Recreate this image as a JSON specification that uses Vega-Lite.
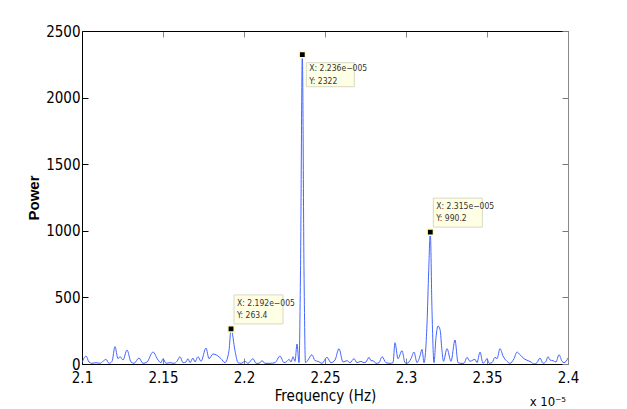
{
  "$schema": "https://vega.github.io/schema/vega-lite/v6.json",
  "width": 486,
  "height": 333,
  "autosize": {"type": "none"},
  "padding": {"left": 82, "top": 31, "right": 59, "bottom": 45},
  "background": "white",
  "config": {
    "view": {"stroke": null},
    "font": "DejaVu Sans Condensed, Liberation Sans, sans-serif",
    "axis": {"grid": false, "labelFont": "DejaVu Sans Condensed, Liberation Sans, sans-serif", "titleFont": "DejaVu Sans Condensed, Liberation Sans, sans-serif"}
  },
  "datasets": {
    "spectrum": [
      {"f": 2.1, "p": 10}, {"f": 2.10247, "p": 60}, {"f": 2.10432, "p": 15}, {"f": 2.10617, "p": 5},
      {"f": 2.10864, "p": 10}, {"f": 2.11111, "p": 5}, {"f": 2.11296, "p": 20}, {"f": 2.11481, "p": 35},
      {"f": 2.11667, "p": 5}, {"f": 2.11852, "p": 20}, {"f": 2.12037, "p": 130}, {"f": 2.12222, "p": 40},
      {"f": 2.12346, "p": 55}, {"f": 2.12531, "p": 30}, {"f": 2.12778, "p": 105}, {"f": 2.13025, "p": 15},
      {"f": 2.1321, "p": 5}, {"f": 2.13519, "p": 45}, {"f": 2.13765, "p": 5}, {"f": 2.14012, "p": 15},
      {"f": 2.14383, "p": 90}, {"f": 2.14691, "p": 30}, {"f": 2.14877, "p": 10}, {"f": 2.15, "p": 40},
      {"f": 2.15185, "p": 5}, {"f": 2.15432, "p": 10}, {"f": 2.15679, "p": 5}, {"f": 2.15864, "p": 20},
      {"f": 2.16049, "p": 55}, {"f": 2.16235, "p": 10}, {"f": 2.1642, "p": 15}, {"f": 2.16543, "p": 40},
      {"f": 2.16667, "p": 10}, {"f": 2.16852, "p": 45}, {"f": 2.16975, "p": 15}, {"f": 2.1716, "p": 55},
      {"f": 2.17346, "p": 20}, {"f": 2.17654, "p": 120}, {"f": 2.1784, "p": 40}, {"f": 2.18086, "p": 75},
      {"f": 2.18333, "p": 65}, {"f": 2.1858, "p": 40}, {"f": 2.18827, "p": 10}, {"f": 2.19074, "p": 100},
      {"f": 2.192, "p": 263.4}, {"f": 2.19444, "p": 100}, {"f": 2.1963, "p": 10}, {"f": 2.19815, "p": 5},
      {"f": 2.20062, "p": 20}, {"f": 2.20247, "p": 5}, {"f": 2.20556, "p": 40}, {"f": 2.20741, "p": 5},
      {"f": 2.20926, "p": 5}, {"f": 2.21111, "p": 25}, {"f": 2.21296, "p": 5}, {"f": 2.21605, "p": 5},
      {"f": 2.21914, "p": 10}, {"f": 2.22222, "p": 60}, {"f": 2.22469, "p": 10}, {"f": 2.22654, "p": 20},
      {"f": 2.22778, "p": 35}, {"f": 2.22901, "p": 15}, {"f": 2.23025, "p": 55}, {"f": 2.23148, "p": 20},
      {"f": 2.23272, "p": 150}, {"f": 2.23395, "p": 10}, {"f": 2.23488, "p": 700}, {"f": 2.236, "p": 2322},
      {"f": 2.23704, "p": 700}, {"f": 2.23796, "p": 10}, {"f": 2.23951, "p": 30}, {"f": 2.24198, "p": 70},
      {"f": 2.24383, "p": 25}, {"f": 2.24568, "p": 20}, {"f": 2.24815, "p": 5}, {"f": 2.25123, "p": 50},
      {"f": 2.2537, "p": 10}, {"f": 2.25617, "p": 30}, {"f": 2.25864, "p": 115}, {"f": 2.26111, "p": 15},
      {"f": 2.26358, "p": 25}, {"f": 2.26543, "p": 10}, {"f": 2.2679, "p": 40}, {"f": 2.26975, "p": 10},
      {"f": 2.27222, "p": 20}, {"f": 2.27407, "p": 10}, {"f": 2.27531, "p": 15}, {"f": 2.27716, "p": 50},
      {"f": 2.2784, "p": 25}, {"f": 2.27963, "p": 25}, {"f": 2.28148, "p": 5}, {"f": 2.28333, "p": 10},
      {"f": 2.28519, "p": 55}, {"f": 2.28765, "p": 10}, {"f": 2.29012, "p": 5}, {"f": 2.29198, "p": 10},
      {"f": 2.29321, "p": 160}, {"f": 2.29506, "p": 40}, {"f": 2.29753, "p": 100}, {"f": 2.29938, "p": 10},
      {"f": 2.30062, "p": 5}, {"f": 2.30309, "p": 40}, {"f": 2.30494, "p": 90}, {"f": 2.30679, "p": 10},
      {"f": 2.30864, "p": 60}, {"f": 2.30988, "p": 110}, {"f": 2.31111, "p": 10}, {"f": 2.31296, "p": 300},
      {"f": 2.31401, "p": 700}, {"f": 2.315, "p": 990.2}, {"f": 2.31605, "p": 400}, {"f": 2.31728, "p": 10},
      {"f": 2.31852, "p": 200}, {"f": 2.31975, "p": 285}, {"f": 2.32099, "p": 260}, {"f": 2.32222, "p": 100},
      {"f": 2.32315, "p": 20}, {"f": 2.32531, "p": 115}, {"f": 2.32778, "p": 20}, {"f": 2.33025, "p": 180},
      {"f": 2.3321, "p": 10}, {"f": 2.33395, "p": 5}, {"f": 2.3358, "p": 5}, {"f": 2.33765, "p": 50},
      {"f": 2.33951, "p": 20}, {"f": 2.34136, "p": 30}, {"f": 2.34259, "p": 35}, {"f": 2.34383, "p": 10},
      {"f": 2.34568, "p": 90}, {"f": 2.34753, "p": 5}, {"f": 2.34877, "p": 20}, {"f": 2.35, "p": 40},
      {"f": 2.35123, "p": 5}, {"f": 2.35309, "p": 10}, {"f": 2.35494, "p": 50}, {"f": 2.35617, "p": 40},
      {"f": 2.35802, "p": 115}, {"f": 2.35988, "p": 60}, {"f": 2.36235, "p": 20}, {"f": 2.3642, "p": 5},
      {"f": 2.36667, "p": 40}, {"f": 2.36852, "p": 90}, {"f": 2.37037, "p": 70}, {"f": 2.37284, "p": 40},
      {"f": 2.37531, "p": 25}, {"f": 2.37716, "p": 15}, {"f": 2.37901, "p": 0}, {"f": 2.38086, "p": 10},
      {"f": 2.38272, "p": 45}, {"f": 2.38457, "p": 5}, {"f": 2.38642, "p": 20}, {"f": 2.38765, "p": 55},
      {"f": 2.38889, "p": 30}, {"f": 2.39074, "p": 25}, {"f": 2.39259, "p": 15}, {"f": 2.39444, "p": 70},
      {"f": 2.3963, "p": 20}, {"f": 2.39753, "p": 10}, {"f": 2.39877, "p": 20}, {"f": 2.4, "p": 45}
    ],
    "peaks": [
      {"f": 2.192, "p": 263.4, "label": "X: 2.192e\u2212005\nY: 263.4"},
      {"f": 2.236, "p": 2322, "label": "X: 2.236e\u2212005\nY: 2322"},
      {"f": 2.315, "p": 990.2, "label": "X: 2.315e\u2212005\nY: 990.2"}
    ],
    "corner": [{"f": 2.4, "p": 0, "t": "x 10\u207b\u2075"}]
  },
  "resolve": {"axis": {"x": "independent", "y": "independent"}},
  "layer": [
    {
      "data": {"name": "spectrum"},
      "mark": {"type": "line", "interpolate": "monotone", "color": "#4466ff", "strokeWidth": 1, "clip": true},
      "encoding": {
        "x": {"field": "f", "type": "quantitative", "scale": {"domain": [2.1, 2.4], "nice": false, "zero": false},
          "axis": {"orient": "bottom", "values": [2.1, 2.15, 2.2, 2.25, 2.3, 2.35, 2.4], "format": "~g", "title": "Frequency (Hz)",
            "titleFontSize": 15, "titleFontWeight": "normal", "titleColor": "black", "titlePadding": 3,
            "labelFontSize": 15, "labelColor": "black", "labelPadding": 12, "tickSize": -6, "tickColor": "#888",
            "domainColor": "black", "labelFlush": false}},
        "y": {"field": "p", "type": "quantitative", "scale": {"domain": [0, 2500], "nice": false},
          "axis": {"orient": "left", "values": [0, 500, 1000, 1500, 2000, 2500], "format": "d", "title": "Power",
            "titleFontSize": 15, "titleFontWeight": "bold", "titleFont": "Liberation Sans", "titleColor": "black", "titlePadding": 4,
            "labelFontSize": 15, "labelColor": "black", "labelPadding": 8, "tickSize": -6, "tickColor": "black",
            "domainColor": "black", "labelFlush": false}}
      }
    },
    {
      "data": {"name": "peaks"},
      "mark": {"type": "square", "size": 40, "filled": true, "color": "black", "stroke": "#ffffc0", "strokeWidth": 1.5, "opacity": 1},
      "encoding": {
        "x": {"field": "f", "type": "quantitative",
          "axis": {"orient": "top", "values": [2.1, 2.15, 2.2, 2.25, 2.3, 2.35, 2.4], "labels": false, "title": null,
            "tickSize": -6, "tickColor": "#888", "domainColor": "black"}},
        "y": {"field": "p", "type": "quantitative",
          "axis": {"orient": "right", "values": [0, 500, 1000, 1500, 2000, 2500], "labels": false, "title": null,
            "tickSize": -6, "tickColor": "#777", "domainColor": "#888"}}
      }
    },
    {
      "data": {"name": "peaks"},
      "transform": [{"filter": "datum.p > 2000"}],
      "layer": [
        {
          "mark": {"type": "rect", "fill": "#ffffe6", "stroke": "#d9d9c0", "strokeWidth": 1,
            "xOffset": 4, "x2Offset": 52, "yOffset": 8, "y2Offset": 32},
          "encoding": {
            "x": {"field": "f", "type": "quantitative", "axis": null},
            "x2": {"field": "f"},
            "y": {"field": "p", "type": "quantitative", "axis": null},
            "y2": {"field": "p"}
          }
        },
        {
          "mark": {"type": "text", "align": "left", "baseline": "middle", "dx": 7, "dy": 13, "lineBreak": "\n", "lineHeight": 13,
            "fontSize": 8.5, "color": "#333"},
          "encoding": {
            "x": {"field": "f", "type": "quantitative", "axis": null},
            "y": {"field": "p", "type": "quantitative", "axis": null},
            "text": {"field": "label"}
          }
        }
      ]
    },
    {
      "data": {"name": "peaks"},
      "transform": [{"filter": "datum.p < 2000"}],
      "layer": [
        {
          "mark": {"type": "rect", "fill": "#ffffe6", "stroke": "#d9d9c0", "strokeWidth": 1,
            "xOffset": 3, "x2Offset": 52, "yOffset": -34, "y2Offset": -5},
          "encoding": {
            "x": {"field": "f", "type": "quantitative", "axis": null},
            "x2": {"field": "f"},
            "y": {"field": "p", "type": "quantitative", "axis": null},
            "y2": {"field": "p"}
          }
        },
        {
          "mark": {"type": "text", "align": "left", "baseline": "middle", "dx": 6, "dy": -26, "lineBreak": "\n", "lineHeight": 12,
            "fontSize": 8.5, "color": "#333"},
          "encoding": {
            "x": {"field": "f", "type": "quantitative", "axis": null},
            "y": {"field": "p", "type": "quantitative", "axis": null},
            "text": {"field": "label"}
          }
        }
      ]
    },
    {
      "data": {"name": "corner"},
      "mark": {"type": "text", "align": "right", "baseline": "middle", "dx": -2, "dy": 38, "fontSize": 13, "color": "black"},
      "encoding": {
        "x": {"field": "f", "type": "quantitative", "axis": null},
        "y": {"field": "p", "type": "quantitative", "axis": null},
        "text": {"field": "t"}
      }
    }
  ]
}
